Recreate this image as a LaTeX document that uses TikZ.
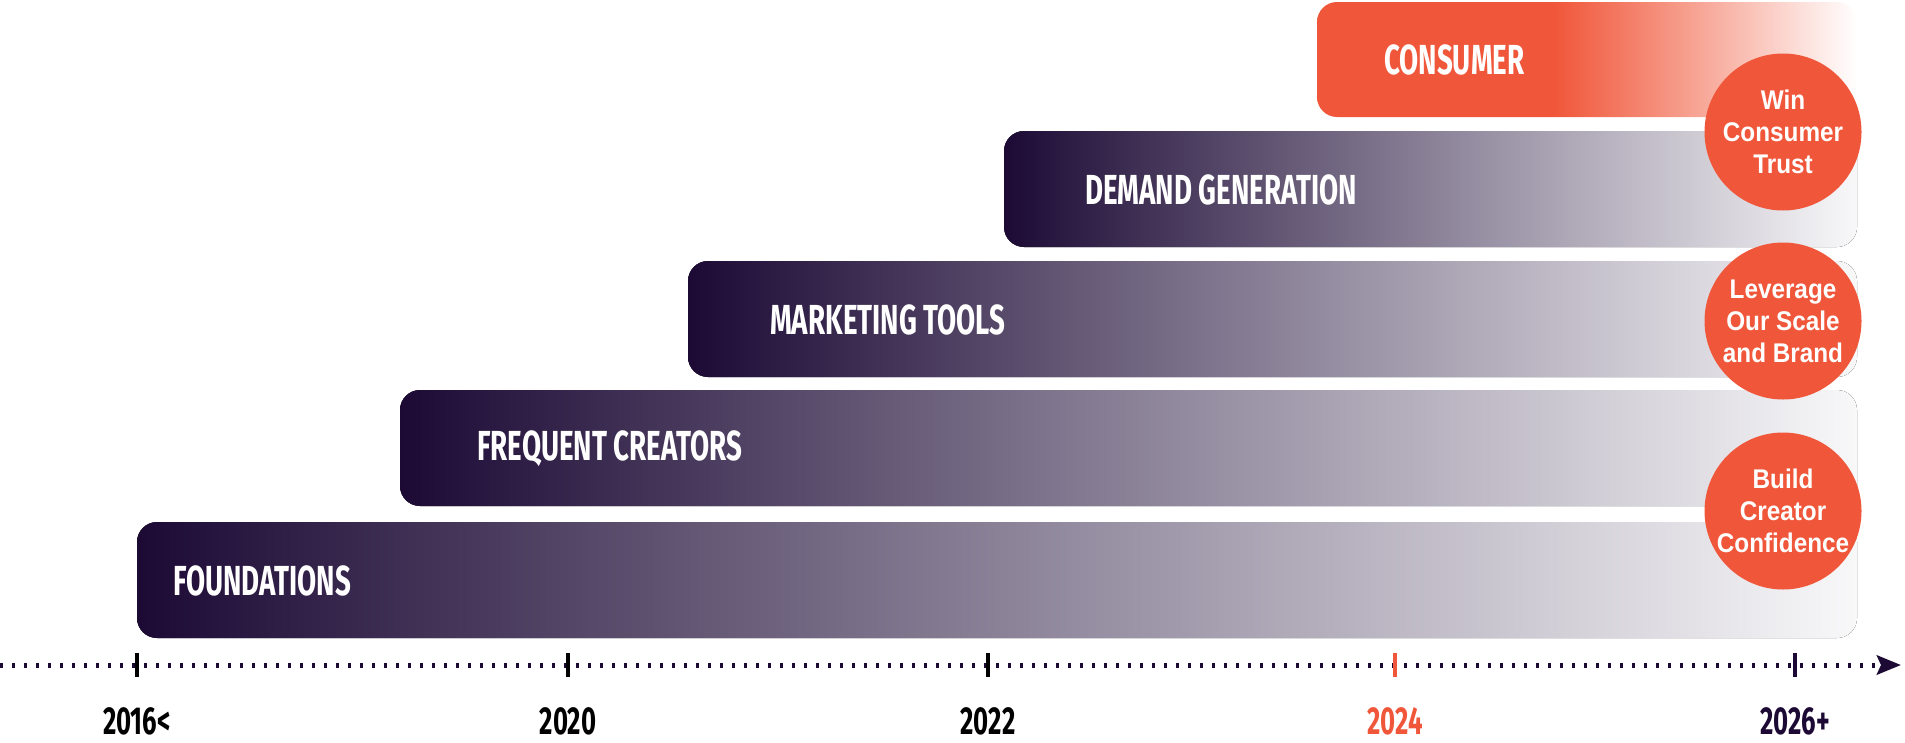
\documentclass[tikz,border=0pt]{standalone}
\usepackage{fontspec}
\usetikzlibrary{arrows.meta}
\setmainfont{Liberation Sans}
\newfontfamily\bebas[FakeStretch=0.66]{Fira Sans}
\newfontfamily\goalfont[FakeStretch=0.9]{Liberation Sans}
\definecolor{ink}{HTML}{1C0A35}
\definecolor{mist}{HTML}{F8F8F9}
\definecolor{coral}{HTML}{F0573A}
\pgfdeclarehorizontalshading{coralfade}{100bp}{color(0bp)=(coral); color(25bp)=(coral); color(47bp)=(coral); color(53bp)=(coral!80!white); color(75bp)=(white); color(100bp)=(white)}

\begin{document}
\begin{tikzpicture}[x=1pt, y=-1pt,
    bar/.style={rounded corners=20pt, left color=ink, right color=mist},
    barlabel/.style={anchor=west, inner sep=0pt, text=white, font=\bebas\bfseries\fontsize{42}{42}\selectfont},
    goal/.style={circle, fill=coral, minimum size=157pt, inner sep=0pt, text=white, align=center, font=\goalfont\bfseries\fontsize{27}{32}\selectfont},
    year/.style={inner sep=0pt, font=\bebas\bfseries\fontsize{39}{39}\selectfont}]
    \useasboundingbox (0,0) rectangle (1905,742);

    % top bar: flat coral, fading out to the right
    \shade[rounded corners=20pt, shading=coralfade] (1317,2) rectangle (1857,117);
    \node[barlabel] (consumer) at (1384,60) {CONSUMER};

    % purple bars, top down
    \foreach \xx/\tx/\yy/\nm/\lab in {1004/1085/131/demand/DEMAND GENERATION,
                                      688/770/261/tools/MARKETING TOOLS,
                                      400/477/390/creators/FREQUENT CREATORS,
                                      137/173/522/found/FOUNDATIONS}
      {
        \fill[bar] (\xx,\yy) rectangle (1857,\yy+116);
        \node[barlabel] (\nm) at (\tx,\yy+59) {\lab};
      }

    % goals on the right edge
    \node[goal] (trust) at (1783,132) {Win\\Consumer\\Trust};
    \node[goal] (scale) at (1783,321) {Leverage\\Our Scale\\and Brand};
    \node[goal] (confidence) at (1783,511) {Build\\Creator\\Confidence};

    % time axis
    \coordinate (axL) at (0,665);
    \coordinate (axR) at (1901,665);
    \draw[ink, line width=5pt, dash pattern=on 3pt off 9pt, -{Stealth[length=24pt, width=19pt, inset=4pt]}] (axL) -- (axR);
    \foreach \x/\yr/\col in {137/2016</black, 568/2020/black, 988/2022/black, 1395/2024/coral, 1795/2026+/ink}
      {
        \coordinate (t\x) at (\x,665);
        \draw[\col=="coral" ? coral : ink, line width=3.5pt] (\x,653) -- (\x,677);
        \node[year, text=\col] (y\x) at (\x,721) {\yr};
      }
\end{tikzpicture}
\end{document}
